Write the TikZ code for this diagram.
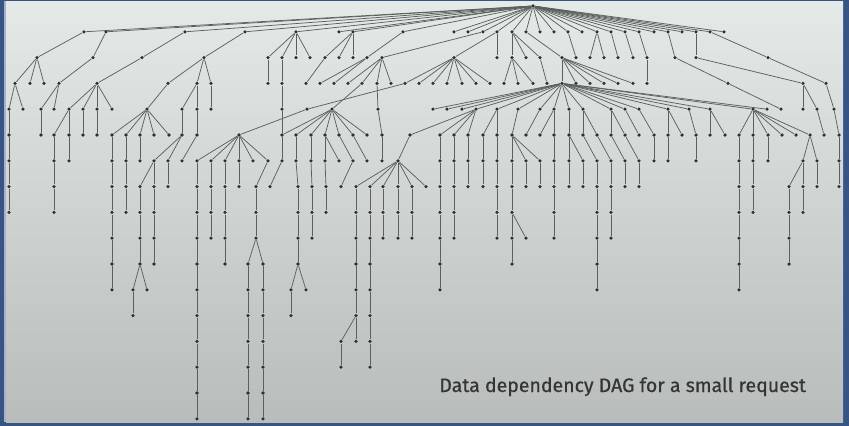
\documentclass[tikz,border=0pt]{standalone}
\usepackage{fontspec}
\newfontfamily\captionfont[FakeBold=0.6]{Fira Sans}

\definecolor{slidetop}{RGB}{228,234,231}
\definecolor{slidebot}{RGB}{184,188,187}
\definecolor{slideframe}{RGB}{56,84,132}
\definecolor{edgegray}{RGB}{92,95,94}
\definecolor{dotgray}{RGB}{45,47,47}
\definecolor{captiongray}{RGB}{52,54,54}

\tikzset{
  dag/.style={circle, fill=dotgray, inner sep=0pt, minimum size=2pt},
  link/.style={draw=edgegray, line width=0.42pt},
  caption/.style={text=captiongray, font=\captionfont\fontsize{11.1}{13}\selectfont, inner sep=0pt},
}

\begin{document}
\begin{tikzpicture}[x=0.02cm, y=-0.02cm]
    \useasboundingbox (0,0) rectangle (849,426);

    % slide background
    \fill[slideframe] (0,0) rectangle (849,426);
    \shade[top color=slidetop, bottom color=slidebot] (6,1) rectangle (843,422);
    \fill[slideframe!45!white] (4,1) rectangle (6,422);

    % nodes, one rank per row
    \foreach \lvl/\xs in {
        0/{533},
        1/{84,106,185,245,296,339,353,403,454,468,483,497,512,526,540,554,568,582,597,611,625,639,654,668,682,696,710,724},
        2/{37,93,142,204,268,282,296,310,325,339,353,367,382,454,497,512,526,540,562,576,590,604,618,633,647,675,696,768},
        3/{15,30,44,59,97,168,197,211,268,282,306,320,334,348,362,377,391,405,419,433,447,462,476,490,504,518,533,547,562,576,590,604,618,633,647,728,803,826},
        4/{9,23,41,54,69,83,97,112,147,182,197,211,282,307,332,378,433,447,462,476,497,518,540,554,569,583,611,625,639,668,689,710,753,767,781,803,817,834},
        5/{9,41,54,69,83,97,112,126,140,154,169,182,197,239,282,296,311,325,339,353,367,382,410,440,454,468,483,497,512,526,540,554,569,583,597,611,625,639,654,668,682,696,710,725,739,753,768,782,796,810,824,839},
        6/{9,54,69,112,126,140,154,168,182,197,211,225,239,253,268,282,296,311,325,339,353,367,382,398,440,454,468,483,497,512,526,540,554,569,583,597,611,625,639,654,668,696,739,753,768,803,817,839},
        7/{9,54,112,126,140,154,168,197,211,225,239,256,270,298,312,326,341,356,370,383,398,412,426,440,454,468,483,497,512,526,540,554,569,583,597,611,625,639,739,753,789,803,817,839},
        8/{9,54,112,126,140,154,197,211,225,256,298,312,326,356,370,383,398,412,440,454,497,512,554,597,611,739,753,789,803},
        9/{112,140,154,197,211,225,256,298,312,356,370,383,398,412,440,454,497,512,526,554,597,611,739,789},
        10/{112,140,154,197,225,248,263,298,356,370,440,512,597,739,789},
        11/{112,133,147,197,248,263,291,306,356,370,440,597,739},
        12/{133,197,248,263,291,356,370},
        13/{197,248,263,341,356,370},
        14/{197,248,263,341,370},
        15/{197,248,263},
        16/{197,248,263}} {
      \pgfmathsetmacro\yy{6+25.8*\lvl}
      \foreach \x in \xs
        \node[dag] (n\lvl-\x) at (\x,\yy) {};
    }

    % root fan
    \foreach \x in {84,106,185,245,296,339,353,403,454,468,483,497,512,526,540,554,568,582,597,611,625,639,654,668,682,696,710,724}
      \draw[link] (n0-533) -- (n1-\x);

    % parent/child per rank
    \foreach \lvl/\pairs in {
        2/{84/37,106/93,185/142,245/204,296/268,296/282,296/296,296/310,353/325,353/339,353/353,403/367,483/382,497/454,497/497,512/512,512/526,512/540,526/562,568/576,597/590,597/604,611/618,625/633,639/647,668/675,696/696,710/768},
        3/{37/15,37/30,37/44,93/59,142/97,204/168,204/197,204/211,268/268,282/282,325/306,367/320,367/334,382/348,382/362,382/377,382/391,454/405,454/419,454/433,454/447,454/462,454/476,454/490,512/504,512/518,512/533,540/547,562/562,562/576,562/590,562/604,562/618,562/633,647/647,675/728,696/803,768/826},
        4/{15/9,15/23,59/41,59/54,97/69,97/83,97/97,97/112,168/147,197/182,197/197,211/211,282/282,405/307,362/332,377/378,562/433,562/447,562/462,562/476,562/497,562/518,562/540,562/554,562/569,562/583,562/611,562/625,562/639,562/668,562/689,562/710,562/753,562/767,728/781,803/803,803/817,826/834},
        5/{9/9,41/41,69/54,69/69,83/83,97/97,147/112,147/126,147/140,147/154,147/169,182/182,197/197,307/239,282/282,332/282,332/296,332/311,332/325,332/339,332/353,332/367,378/382,476/410,476/440,476/454,476/468,497/483,497/497,518/512,540/526,554/540,554/554,569/569,583/583,583/597,611/611,611/625,625/639,639/654,668/668,668/682,689/696,710/710,710/725,753/739,753/753,753/768,753/782,753/796,753/810,817/824,834/839},
        6/{9/9,54/54,69/69,112/112,126/126,140/140,182/154,182/168,197/182,239/197,239/211,239/225,239/239,239/253,239/268,282/282,296/296,311/311,325/325,325/339,339/353,353/367,382/382,410/398,440/440,454/454,468/468,483/483,497/497,512/512,512/526,512/540,554/554,569/569,569/583,583/597,597/611,611/625,625/639,654/654,668/668,696/696,739/739,753/753,768/768,810/803,810/817,839/839},
        7/{9/9,54/54,112/112,126/126,154/140,154/154,168/168,197/197,211/211,225/225,239/239,268/256,282/270,296/298,311/312,325/326,353/341,398/356,398/370,398/383,398/398,398/412,398/426,440/440,454/454,468/468,483/483,497/497,512/512,526/526,540/540,554/554,569/569,583/583,597/597,611/611,625/625,639/639,739/739,753/753,803/789,803/803,817/817,839/839},
        8/{9/9,54/54,112/112,126/126,140/140,154/154,197/197,211/211,225/225,256/256,298/298,312/312,326/326,356/356,370/370,383/383,398/398,412/412,440/440,454/454,497/497,512/512,554/554,597/597,611/611,739/739,753/753,789/789,803/803},
        9/{112/112,140/140,154/154,197/197,211/211,225/225,256/256,298/298,312/312,356/356,370/370,383/383,398/398,412/412,440/440,454/454,497/497,512/512,512/526,554/554,597/597,611/611,739/739,789/789},
        10/{112/112,140/140,154/154,197/197,225/225,256/248,256/263,298/298,356/356,370/370,440/440,512/512,597/597,739/739,789/789},
        11/{112/112,140/133,140/147,197/197,248/248,263/263,298/291,298/306,356/356,370/370,440/440,597/597,739/739},
        12/{133/133,197/197,248/248,263/263,291/291,356/356,370/370},
        13/{197/197,248/248,263/263,356/341,356/356,370/370},
        14/{197/197,248/248,263/263,341/341,370/370},
        15/{197/197,248/248,263/263},
        16/{197/197,248/248,263/263}} {
      \pgfmathtruncatemacro\up{\lvl-1}
      \foreach \a/\b in \pairs
        \draw[link] (n\up-\a) -- (n\lvl-\b);
    }

    \node[caption, anchor=base west] (title) at (439,392) {Data dependency DAG for a small request};
\end{tikzpicture}
\end{document}
